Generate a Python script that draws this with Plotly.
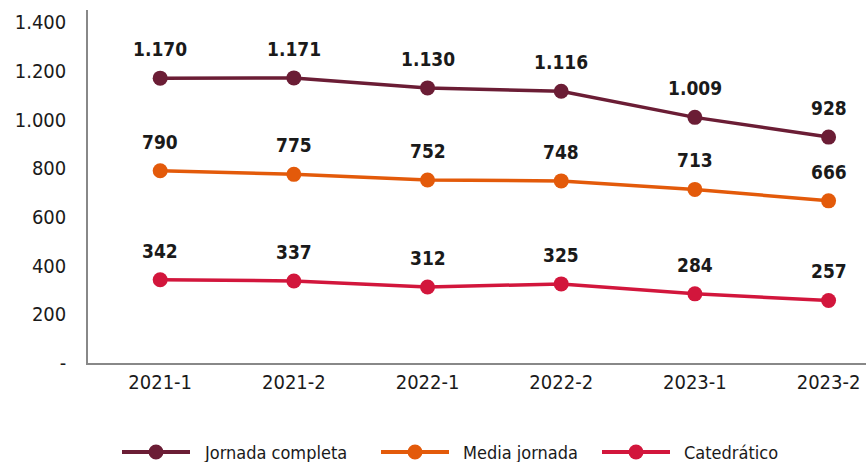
import plotly.graph_objects as go

categories = ["2021-1", "2021-2", "2022-1", "2022-2", "2023-1", "2023-2"]
jornada_completa = [1170, 1171, 1130, 1116, 1009, 928]
media_jornada = [790, 775, 752, 748, 713, 666]
catedratico = [342, 337, 312, 325, 284, 257]
series_names = ["Jornada completa", "Media jornada", "Catedrático"]
colors = ["#6B1D35", "#E35A0A", "#D2163C"]
y_tickvals = [0, 200, 400, 600, 800, 1000, 1200, 1400]

def fmt(v):
    return "-" if v == 0 else f"{v:,}".replace(",", ".")

FONT = "DejaVu Sans Condensed, Liberation Sans Narrow, sans-serif"

W, H = 866, 462
ML, MR, MT, MB = 88, 0, 10, 99
PW, PH = W - ML - MR, H - MT - MB

def px_x(p):
    return (p - ML) / PW

def px_y(p):
    return (H - MB - p) / PH

fig = go.Figure()
annotations = []
shapes = []
for name, vals, col in zip(series_names, [jornada_completa, media_jornada, catedratico], colors):
    fig.add_trace(go.Scatter(
        x=categories, y=vals, name=name, mode="lines+markers",
        line=dict(color=col, width=3.5), marker=dict(color=col, size=15),
        showlegend=False,
    ))
    for c, v in zip(categories, vals):
        annotations.append(dict(x=c, y=v, text=f"<b>{fmt(v)}</b>", showarrow=False,
                                yshift=29, font=dict(size=19, color="#1a1a1a", family=FONT)))

# custom legend (layout decoration)
legend_starts = [122, 381, 602]
key_len = 68
ly = 452
for name, col, x0 in zip(series_names, colors, legend_starts):
    shapes.append(dict(type="line", xref="paper", yref="paper",
                       x0=px_x(x0), x1=px_x(x0 + key_len), y0=px_y(ly), y1=px_y(ly),
                       line=dict(color=col, width=4)))
    cx = x0 + key_len / 2
    shapes.append(dict(type="circle", xref="paper", yref="paper",
                       x0=px_x(cx - 7.5), x1=px_x(cx + 7.5), y0=px_y(ly + 7.5), y1=px_y(ly - 7.5),
                       fillcolor=col, line=dict(color=col, width=0)))
    annotations.append(dict(xref="paper", yref="paper", x=px_x(x0 + key_len + 12), y=px_y(ly),
                            xanchor="left", yanchor="middle", text=name, showarrow=False,
                            font=dict(size=18, color="#1a1a1a", family=FONT)))

fig.update_layout(
    width=W, height=H,
    margin=dict(l=ML, r=MR, t=MT, b=MB, autoexpand=False),
    plot_bgcolor="white", paper_bgcolor="white",
    font=dict(family=FONT, size=20, color="#1a1a1a"),
    annotations=annotations,
    shapes=shapes,
    showlegend=False,
    xaxis=dict(type="category", range=[-0.54, 5.28], showgrid=False, showline=True,
               linecolor="#888888", linewidth=1.5, ticks="", tickfont=dict(size=20),
               ticklabelstandoff=0, automargin=False),
    yaxis=dict(range=[0, 1450], showgrid=False, showline=True, linecolor="#888888",
               linewidth=1.5, ticks="", tickvals=y_tickvals,
               ticktext=[fmt(v) for v in y_tickvals], tickfont=dict(size=20),
               ticklabelstandoff=16, zeroline=False, automargin=False),
)

fig.write_html("out.html", config={"displayModeBar": False},
               post_script="document.body.style.margin='0';document.body.style.padding='0';")
